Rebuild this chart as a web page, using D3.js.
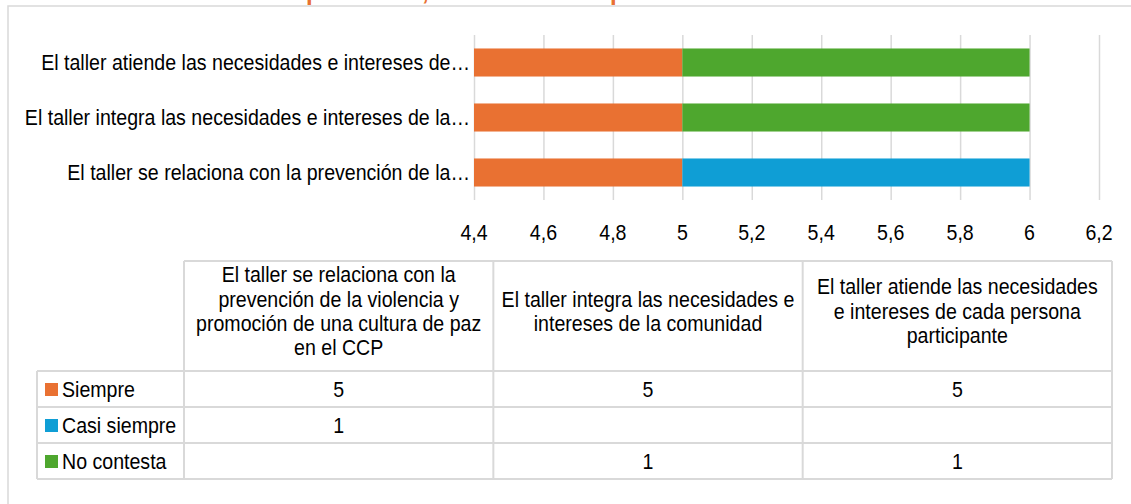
<!DOCTYPE html>
<html>
<head>
<meta charset="utf-8">
<style>
  body { margin: 0; background: #fff; }
  svg { display: block; font-family: 'Liberation Sans', Arial, sans-serif; }
  .grid line { stroke: #d9d9d9; stroke-width: 1.5px; }
  .grid .domain { display: none; }
  .tbl line { stroke: #d9d9d9; stroke-width: 2px; }
  .lbl { font-size: 22px; fill: #000; }
</style>
</head>
<body>
<svg width="1131" height="504"></svg>
<script src="https://d3js.org/d3.v7.min.js"></script>
<script>
// ---- data ----
let categories = [
  "El taller se relaciona con la prevención de la violencia y promoción de una cultura de paz en el CCP",
  "El taller integra las necesidades e intereses de la comunidad",
  "El taller atiende las necesidades e intereses de cada persona participante"
]
// truncated labels as shown on the axis
let axisLabels = [
  "El taller se relaciona con la prevención de la…",
  "El taller integra las necesidades e intereses de la…",
  "El taller atiende las necesidades e intereses de…"
]
// header text in the data table, broken the same way
let headerLines = [
  ["El taller se relaciona con la", "prevención de la violencia y", "promoción de una cultura de paz", "en el CCP"],
  ["El taller integra las necesidades e", "intereses de la comunidad"],
  ["El taller atiende las necesidades", "e intereses de cada persona", "participante"]
]
let seriesNames = ["Siempre", "Casi siempre", "No contesta"]
let siempre = [5, 5, 5]
let casiSiempre = [1, null, null]
let noContesta = [null, 1, 1]
let seriesColors = ["#E97132", "#0F9ED5", "#4EA72E"]
let xTicks = [4.4, 4.6, 4.8, 5, 5.2, 5.4, 5.6, 5.8, 6, 6.2]
let titleText = "Valoración del taller: es pertinente, en el marco de prevención"

let svg = d3.select("svg")

// the reference uses a narrow font, squeeze the text horizontally
function condense(sel) {
  sel.each(function () {
    let w = this.getComputedTextLength()
    d3.select(this).attr("textLength", w * 0.89).attr("lengthAdjust", "spacingAndGlyphs")
  })
}

// chart frame (runs past the right and bottom edges of the picture)
svg.append("rect")
  .attr("x", 8).attr("y", 6)
  .attr("width", 1200).attr("height", 600)
  .style("fill", "none").style("stroke", "#d9d9d9").style("stroke-width", "1.5px")

// title, mostly above the visible area
let title = svg.append("text")
  .attr("y", 0)
  .style("font-weight", "bold")
  .style("font-size", "24px")
  .style("fill", "#E97132")
  .text(titleText)
let pIdx = titleText.indexOf("pertinente")
title.attr("x", 306 - title.node().getSubStringLength(0, pIdx))

let rows = categories.map((c, i) => ({
  cat: c,
  label: axisLabels[i],
  "Siempre": siempre[i] || 0,
  "Casi siempre": casiSiempre[i] || 0,
  "No contesta": noContesta[i] || 0
}))

let x = d3.scaleLinear().domain([4.4, 6.2]).range([474, 1099]).clamp(true)
let y = d3.scaleBand()
  .domain(rows.map(d => d.cat).reverse())
  .range([35, 200])
  .paddingInner(0.49).paddingOuter(0.245)

// vertical gridlines
svg.append("g")
  .attr("class", "grid")
  .attr("transform", "translate(0,200)")
  .call(d3.axisBottom(x).tickValues(xTicks).tickSize(-165).tickFormat(""))

let stacked = d3.stack().keys(seriesNames)(rows)
let color = d3.scaleOrdinal().domain(seriesNames).range(seriesColors)

svg.append("g")
  .selectAll("g")
  .data(stacked)
  .join("g")
  .style("fill", d => color(d.key))
  .selectAll("rect")
  .data(d => d)
  .join("rect")
  .attr("x", d => x(d[0]))
  .attr("y", d => y(d.data.cat))
  .attr("width", d => x(d[1]) - x(d[0]))
  .attr("height", y.bandwidth())

// category labels
svg.append("g")
  .selectAll("text")
  .data(rows)
  .join("text")
  .attr("class", "lbl")
  .attr("x", 470)
  .attr("y", d => y(d.cat) + y.bandwidth() / 2)
  .attr("dy", "0.35em")
  .attr("text-anchor", "end")
  .text(d => d.label)
  .call(condense)

// x tick labels
let fmt = d3.format(".1~f")
svg.append("g")
  .selectAll("text")
  .data(xTicks)
  .join("text")
  .attr("class", "lbl")
  .attr("x", d => x(d))
  .attr("y", 232)
  .attr("dy", "0.35em")
  .attr("text-anchor", "middle")
  .text(d => fmt(d).replace(".", ","))
  .call(condense)

// ---- data table ----
let colX = d3.scaleBand().domain(categories).range([184, 1112])
let tblTop = 261, headBottom = 371, rowH = 36
let rowY = d3.scaleBand().domain(seriesNames).range([headBottom, headBottom + rowH * 3])
let tableValues = [siempre, casiSiempre, noContesta]

let tbl = svg.append("g").attr("class", "tbl")
// horizontal lines
tbl.append("line").attr("x1", 184).attr("x2", 1112).attr("y1", tblTop).attr("y2", tblTop)
tbl.selectAll(".hl")
  .data(seriesNames.concat(["end"]))
  .join("line")
  .attr("class", "hl")
  .attr("x1", 37).attr("x2", 1112)
  .attr("y1", (d, i) => headBottom + i * rowY.step())
  .attr("y2", (d, i) => headBottom + i * rowY.step())
// vertical lines
tbl.append("line").attr("x1", 37).attr("x2", 37).attr("y1", headBottom).attr("y2", rowY.range()[1])
tbl.selectAll(".vl")
  .data(categories.concat(["end"]))
  .join("line")
  .attr("class", "vl")
  .attr("x1", (d, i) => 184 + i * colX.step())
  .attr("x2", (d, i) => 184 + i * colX.step())
  .attr("y1", tblTop).attr("y2", rowY.range()[1])

// header text, one text element per line
let headMid = 311
let headData = []
headerLines.forEach((lines, i) => {
  lines.forEach((t, j) => headData.push({ t, j, n: lines.length, col: categories[i] }))
})
tbl.selectAll(".head")
  .data(headData)
  .join("text")
  .attr("class", "head lbl")
  .attr("text-anchor", "middle")
  .attr("x", d => colX(d.col) + colX.bandwidth() / 2)
  .attr("y", d => headMid + (d.j - (d.n - 1) / 2) * 24.3)
  .attr("dy", "0.35em")
  .text(d => d.t)
  .call(condense)

// legend keys and names
let legendRows = tbl.selectAll(".lg")
  .data(seriesNames)
  .join("g")
  .attr("class", "lg")
legendRows.append("rect")
  .attr("x", 45).attr("width", 13).attr("height", 13)
  .attr("y", d => rowY(d) + rowY.bandwidth() / 2 - 6)
  .style("fill", d => color(d))
legendRows.append("text")
  .attr("class", "lbl")
  .attr("x", 62)
  .attr("y", d => rowY(d) + rowY.bandwidth() / 2)
  .attr("dy", "0.35em")
  .text(d => d)
  .call(condense)

// cell values
tableValues.forEach((vals, si) => {
  tbl.append("g")
    .selectAll("text")
    .data(vals.map((v, ci) => ({ v, ci })).filter(d => d.v != null))
    .join("text")
    .attr("class", "lbl")
    .attr("x", d => colX(categories[d.ci]) + colX.bandwidth() / 2)
    .attr("y", rowY(seriesNames[si]) + rowY.bandwidth() / 2)
    .attr("dy", "0.35em")
    .attr("text-anchor", "middle")
    .text(d => d.v)
    .call(condense)
})
</script>
</body>
</html>
